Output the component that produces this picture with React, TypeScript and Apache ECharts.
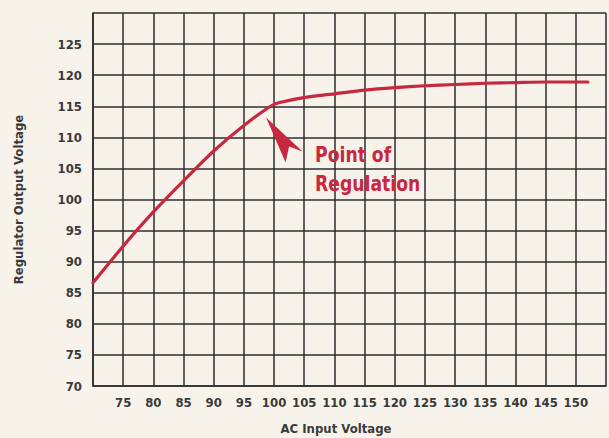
import React, { useEffect, useRef } from "react";
import * as echarts from "echarts";

const inputVoltage = [70, 75, 80, 85, 90, 95, 100, 105, 110, 115, 120, 125, 130, 135, 140, 145, 150, 152];
const outputVoltage = [86.6, 92.5, 98, 103, 107.8, 111.9, 115.3, 116.4, 117, 117.6, 118, 118.3, 118.5, 118.7, 118.8, 118.9, 118.9, 118.9];
const regulationPoint = [100, 115.3];
const annotationLines = ["Point of", "Regulation"];
const xTitle = "AC Input Voltage";
const yTitle = "Regulator Output Voltage";

const RED = "#c8283f";
const FONT = "'Liberation Sans Narrow', 'DejaVu Sans Condensed', 'Roboto Condensed', sans-serif";

export default function App() {
  const ref = useRef<HTMLDivElement>(null);
  useEffect(() => {
    if (!ref.current) return;
    const chart = echarts.init(ref.current, null, { renderer: "svg" });
    const labelStyle = { color: "#3a3a3a", fontFamily: FONT, fontWeight: "bold" as const, fontSize: 13 };
    chart.setOption({
      animation: false,
      backgroundColor: "#f7f3ea",
      grid: { left: 93, top: 13, width: 524.5, height: 373, containLabel: false },
      xAxis: {
        type: "value",
        min: 70,
        max: 155,
        interval: 5,
        axisLine: { show: true, lineStyle: { color: "#2e2e2e", width: 1.6 } },
        axisTick: { show: false },
        axisLabel: {
          ...labelStyle,
          margin: 10,
          formatter: (v: number) => (v > 70 && v <= 150 ? String(v) : ""),
        },
        splitLine: { show: true, lineStyle: { color: "#2e2e2e", width: 1.5 } },
      },
      yAxis: {
        type: "value",
        min: 70,
        max: 130,
        interval: 5,
        name: yTitle,
        nameLocation: "middle",
        nameGap: 68,
        nameTextStyle: { ...labelStyle, fontSize: 13 },
        axisLine: { show: true, lineStyle: { color: "#2e2e2e", width: 1.6 } },
        axisTick: { show: false },
        axisLabel: {
          ...labelStyle,
          margin: 11,
          formatter: (v: number) => (v < 130 ? String(v) : ""),
        },
        splitLine: { show: true, lineStyle: { color: "#2e2e2e", width: 1.5 } },
      },
      series: [
        {
          type: "line",
          data: inputVoltage.map((x, i) => [x, outputVoltage[i]]),
          showSymbol: false,
          symbol: "none",
          smooth: 0.2,
          lineStyle: { color: RED, width: 3.2, cap: "round", join: "round" },
        },
      ],
    });
    const p = chart.convertToPixel({ gridIndex: 0 }, regulationPoint) as number[];
    const [px, py] = p;
    chart.setOption({
      graphic: [
        {
          type: "polygon",
          shape: {
            points: [
              [px - 8, py + 13],
              [px + 28.5, py + 47],
              [px + 15, py + 42],
              [px + 11.5, py + 58],
            ],
          },
          style: { fill: RED },
          z: 10,
        },
        {
          type: "text",
          x: px + 41,
          y: py + 65,
          scaleX: 0.87,
          style: {
            text: annotationLines.join("\n"),
            fill: RED,
            font: `bold 22px ${FONT}`,
            lineHeight: 29,
            verticalAlign: "middle",
            align: "left",
          },
          z: 10,
        },
        {
          type: "text",
          x: 336,
          y: 428,
          style: {
            text: xTitle,
            fill: "#3a3a3a",
            font: `bold 13px ${FONT}`,
            align: "center",
            verticalAlign: "middle",
          },
        },
      ],
    });
    return () => chart.dispose();
  }, []);
  return <div ref={ref} style={{ position: "absolute", left: 0, top: 0, width: 609, height: 438 }} />;
}
